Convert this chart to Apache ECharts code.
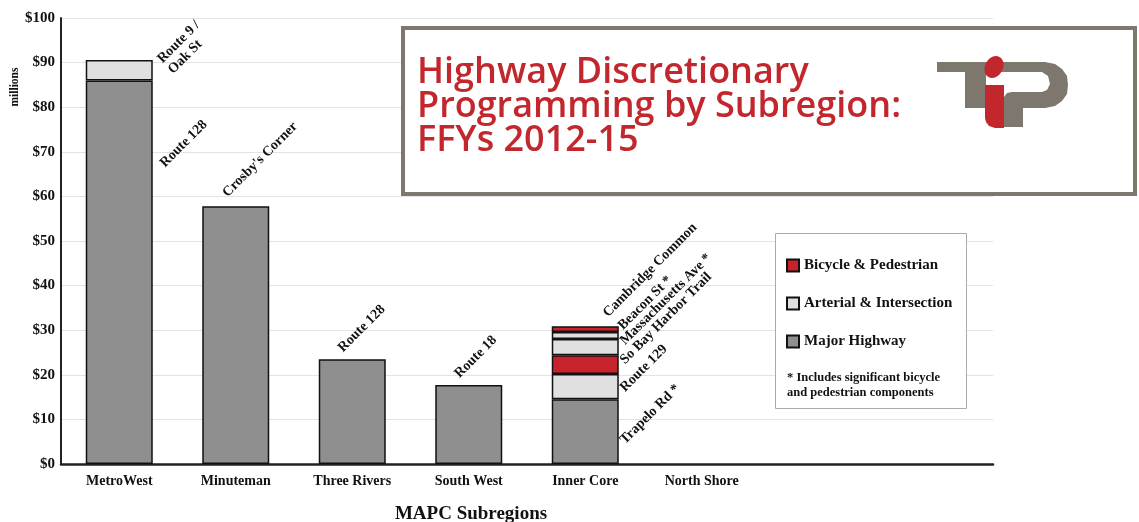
<!DOCTYPE html>
<html lang="en">
<head>
    <meta charset="UTF-8">
    <title>Highway Discretionary Programming by Subregion</title>
    <script src="https://cdn.jsdelivr.net/npm/echarts@6/dist/echarts.min.js"></script>
    <style>
        html, body { margin: 0; padding: 0; background: #fff; }
        #chart { width: 1139px; height: 522px; }
    </style>
</head>
<body>
<div id="chart"></div>
<script type="text/javascript">
    // subregions (last two slots are empty on the original axis)
    var categories = ['MetroWest', 'Minuteman', 'Three Rivers', 'South West', 'Inner Core', 'North Shore', '', ''];
    var yTicks = [0, 10, 20, 30, 40, 50, 60, 70, 80, 90, 100];

    // $ millions, stacked from the bottom up
    var majorHighway = [86.0, 57.8, 23.5, 17.7, 14.5, null, null, null];
    var arterialA = [4.6, null, null, null, 5.7, null, null, null];
    var bikePedA = [null, null, null, null, 4.2, null, null, null];
    var arterialB = [null, null, null, null, 3.6, null, null, null];
    var arterialC = [null, null, null, null, 1.6, null, null, null];
    var bikePedB = [null, null, null, null, 1.3, null, null, null];

    // project names shown beside each segment
    var majorNames = ['Route 128', "Crosby's Corner", 'Route 128', 'Route 18', 'Trapelo Rd *', '', '', ''];
    var arterialANames = ['Route 9 /\nOak St', '', '', '', 'Route 129', '', '', ''];
    var bikePedANames = ['', '', '', '', 'So Bay Harbor Trail', '', '', ''];
    var arterialBNames = ['', '', '', '', 'Massachusetts Ave *', '', '', ''];
    var arterialCNames = ['', '', '', '', 'Beacon St *', '', '', ''];
    var bikePedBNames = ['', '', '', '', 'Cambridge Common', '', '', ''];

    var RED = '#c8232a', LIGHT = '#e0e0e0', GREY = '#8f8f8f';
    var LOGO_GREY = '#7d776d', LOGO_RED = '#c1272d';
    var serif = '"Liberation Serif", "Times New Roman", serif';

    var chart = echarts.init(document.getElementById('chart'));

    // label anchor relative to the segment's top-left corner
    function segment(name, color, values, names, anchors) {
        return {
            name: name,
            type: 'bar',
            stack: 'total',
            barWidth: 67,
            itemStyle: { color: color, borderColor: '#111', borderWidth: 1.5 },
            data: values.map(function (v, i) {
                var item = { value: v == null ? '-' : v };
                if (names[i] && anchors[i]) {
                    item.label = {
                        show: true,
                        formatter: names[i],
                        position: anchors[i],
                        rotate: 45,
                        align: 'left',
                        verticalAlign: 'bottom',
                        lineHeight: 15,
                        fontFamily: serif,
                        fontWeight: 'bold',
                        fontSize: 14,
                        color: '#111'
                    };
                }
                return item;
            })
        };
    }

    chart.setOption({
        animation: false,
        grid: { left: 61, right: 146, top: 18, bottom: 58, containLabel: false },
        legend: {
            orient: 'vertical',
            left: 781,
            top: 253,
            itemWidth: 12,
            itemHeight: 12,
            itemGap: 23,
            icon: 'rect',
            data: ['Bicycle & Pedestrian', 'Arterial & Intersection', 'Major Highway'],
            textStyle: { fontFamily: serif, fontWeight: 'bold', fontSize: 15, color: '#111' }
        },
        xAxis: {
            type: 'category',
            data: categories,
            axisLine: { lineStyle: { color: '#222', width: 2.5 } },
            axisTick: { show: false },
            axisLabel: {
                interval: 0,
                margin: 10,
                fontFamily: serif, fontWeight: 'bold', fontSize: 14, color: '#111'
            }
        },
        yAxis: {
            type: 'value',
            min: yTicks[0],
            max: yTicks[yTicks.length - 1],
            interval: 10,
            axisLine: { show: true, lineStyle: { color: '#222', width: 2 } },
            axisTick: { show: false },
            splitLine: { lineStyle: { color: '#e3e3e3', width: 1 } },
            axisLabel: {
                margin: 6,
                formatter: function (v) { return '$' + v; },
                fontFamily: serif, fontWeight: 'bold', fontSize: 15, color: '#111'
            }
        },
        series: [
            segment('Major Highway', GREY, majorHighway, majorNames,
                [[82, 90], [28, -6], [27, -4], [27, -4], [76, 48]]),
            segment('Arterial & Intersection', LIGHT, arterialA, arterialANames,
                [[90, 17], null, null, null, [76, 21]]),
            segment('Bicycle & Pedestrian', RED, bikePedA, bikePedANames,
                [null, null, null, null, [76, 12]]),
            segment('Arterial & Intersection', LIGHT, arterialB, arterialBNames,
                [null, null, null, null, [76, 9]]),
            segment('Arterial & Intersection', LIGHT, arterialC, arterialCNames,
                [null, null, null, null, [74, 1]]),
            segment('Bicycle & Pedestrian', RED, bikePedB, bikePedBNames,
                [null, null, null, null, [59, -6]])
        ],
        graphic: [
            // title box
            {
                type: 'rect', z: 3,
                shape: { x: 403, y: 28, width: 732, height: 166 },
                style: { fill: '#fff', stroke: LOGO_GREY, lineWidth: 4 }
            },
            {
                type: 'text', z: 4, x: 417, y: 56,
                style: {
                    text: 'Highway Discretionary\nProgramming by Subregion:\nFFYs 2012-15',
                    fill: LOGO_RED,
                    font: '600 36px "Open Sans", "Liberation Sans", sans-serif',
                    lineHeight: 34
                }
            },
            // TIP logo
            { type: 'rect', z: 4, shape: { x: 937, y: 62, width: 50, height: 10 }, style: { fill: LOGO_GREY } },
            { type: 'rect', z: 4, shape: { x: 965, y: 62, width: 21, height: 46 }, style: { fill: LOGO_GREY } },
            {
                type: 'polygon', z: 4,
                shape: {
                    points: [[998, 62], [1045, 62], [1055, 64], [1062, 69], [1067, 76], [1068, 85], [1067, 94],
                        [1062, 101], [1055, 106], [1045, 108], [1023, 108], [1023, 127], [1004, 127], [1004, 97],
                        [1007, 93], [1012, 92], [1042, 92], [1047, 90], [1050, 84], [1048, 76], [1042, 72], [998, 72]]
                },
                style: { fill: LOGO_GREY }
            },
            {
                type: 'circle', z: 5, x: 994, y: 67, scaleX: 0.9, scaleY: 1.15, rotation: -0.5,
                shape: { cx: 0, cy: 0, r: 10 },
                style: { fill: LOGO_RED }
            },
            {
                type: 'polygon', z: 5,
                shape: { points: [[985, 85], [1004, 85], [1004, 128], [995, 128], [989, 126], [986, 122], [985, 118]] },
                style: { fill: LOGO_RED }
            },
            // legend frame and note
            {
                type: 'rect', z: 3,
                shape: { x: 775.5, y: 233.5, width: 191, height: 175 },
                style: { fill: '#fff', stroke: '#aaa', lineWidth: 1 }
            },
            {
                type: 'text', z: 4, x: 787, y: 370,
                style: {
                    text: '* Includes significant bicycle\nand pedestrian components',
                    fill: '#111',
                    font: 'bold 12.5px ' + serif,
                    lineHeight: 15
                }
            },
            // axis names
            {
                type: 'text', x: 15, y: 87, rotation: Math.PI / 2,
                style: {
                    text: 'millions', fill: '#111',
                    font: 'bold 11.5px ' + serif,
                    align: 'center', verticalAlign: 'middle'
                }
            },
            {
                type: 'text', x: 471, y: 514,
                style: {
                    text: 'MAPC Subregions', fill: '#111',
                    font: 'bold 19px ' + serif,
                    align: 'center', verticalAlign: 'middle'
                }
            }
        ]
    });
</script>
</body>
</html>
